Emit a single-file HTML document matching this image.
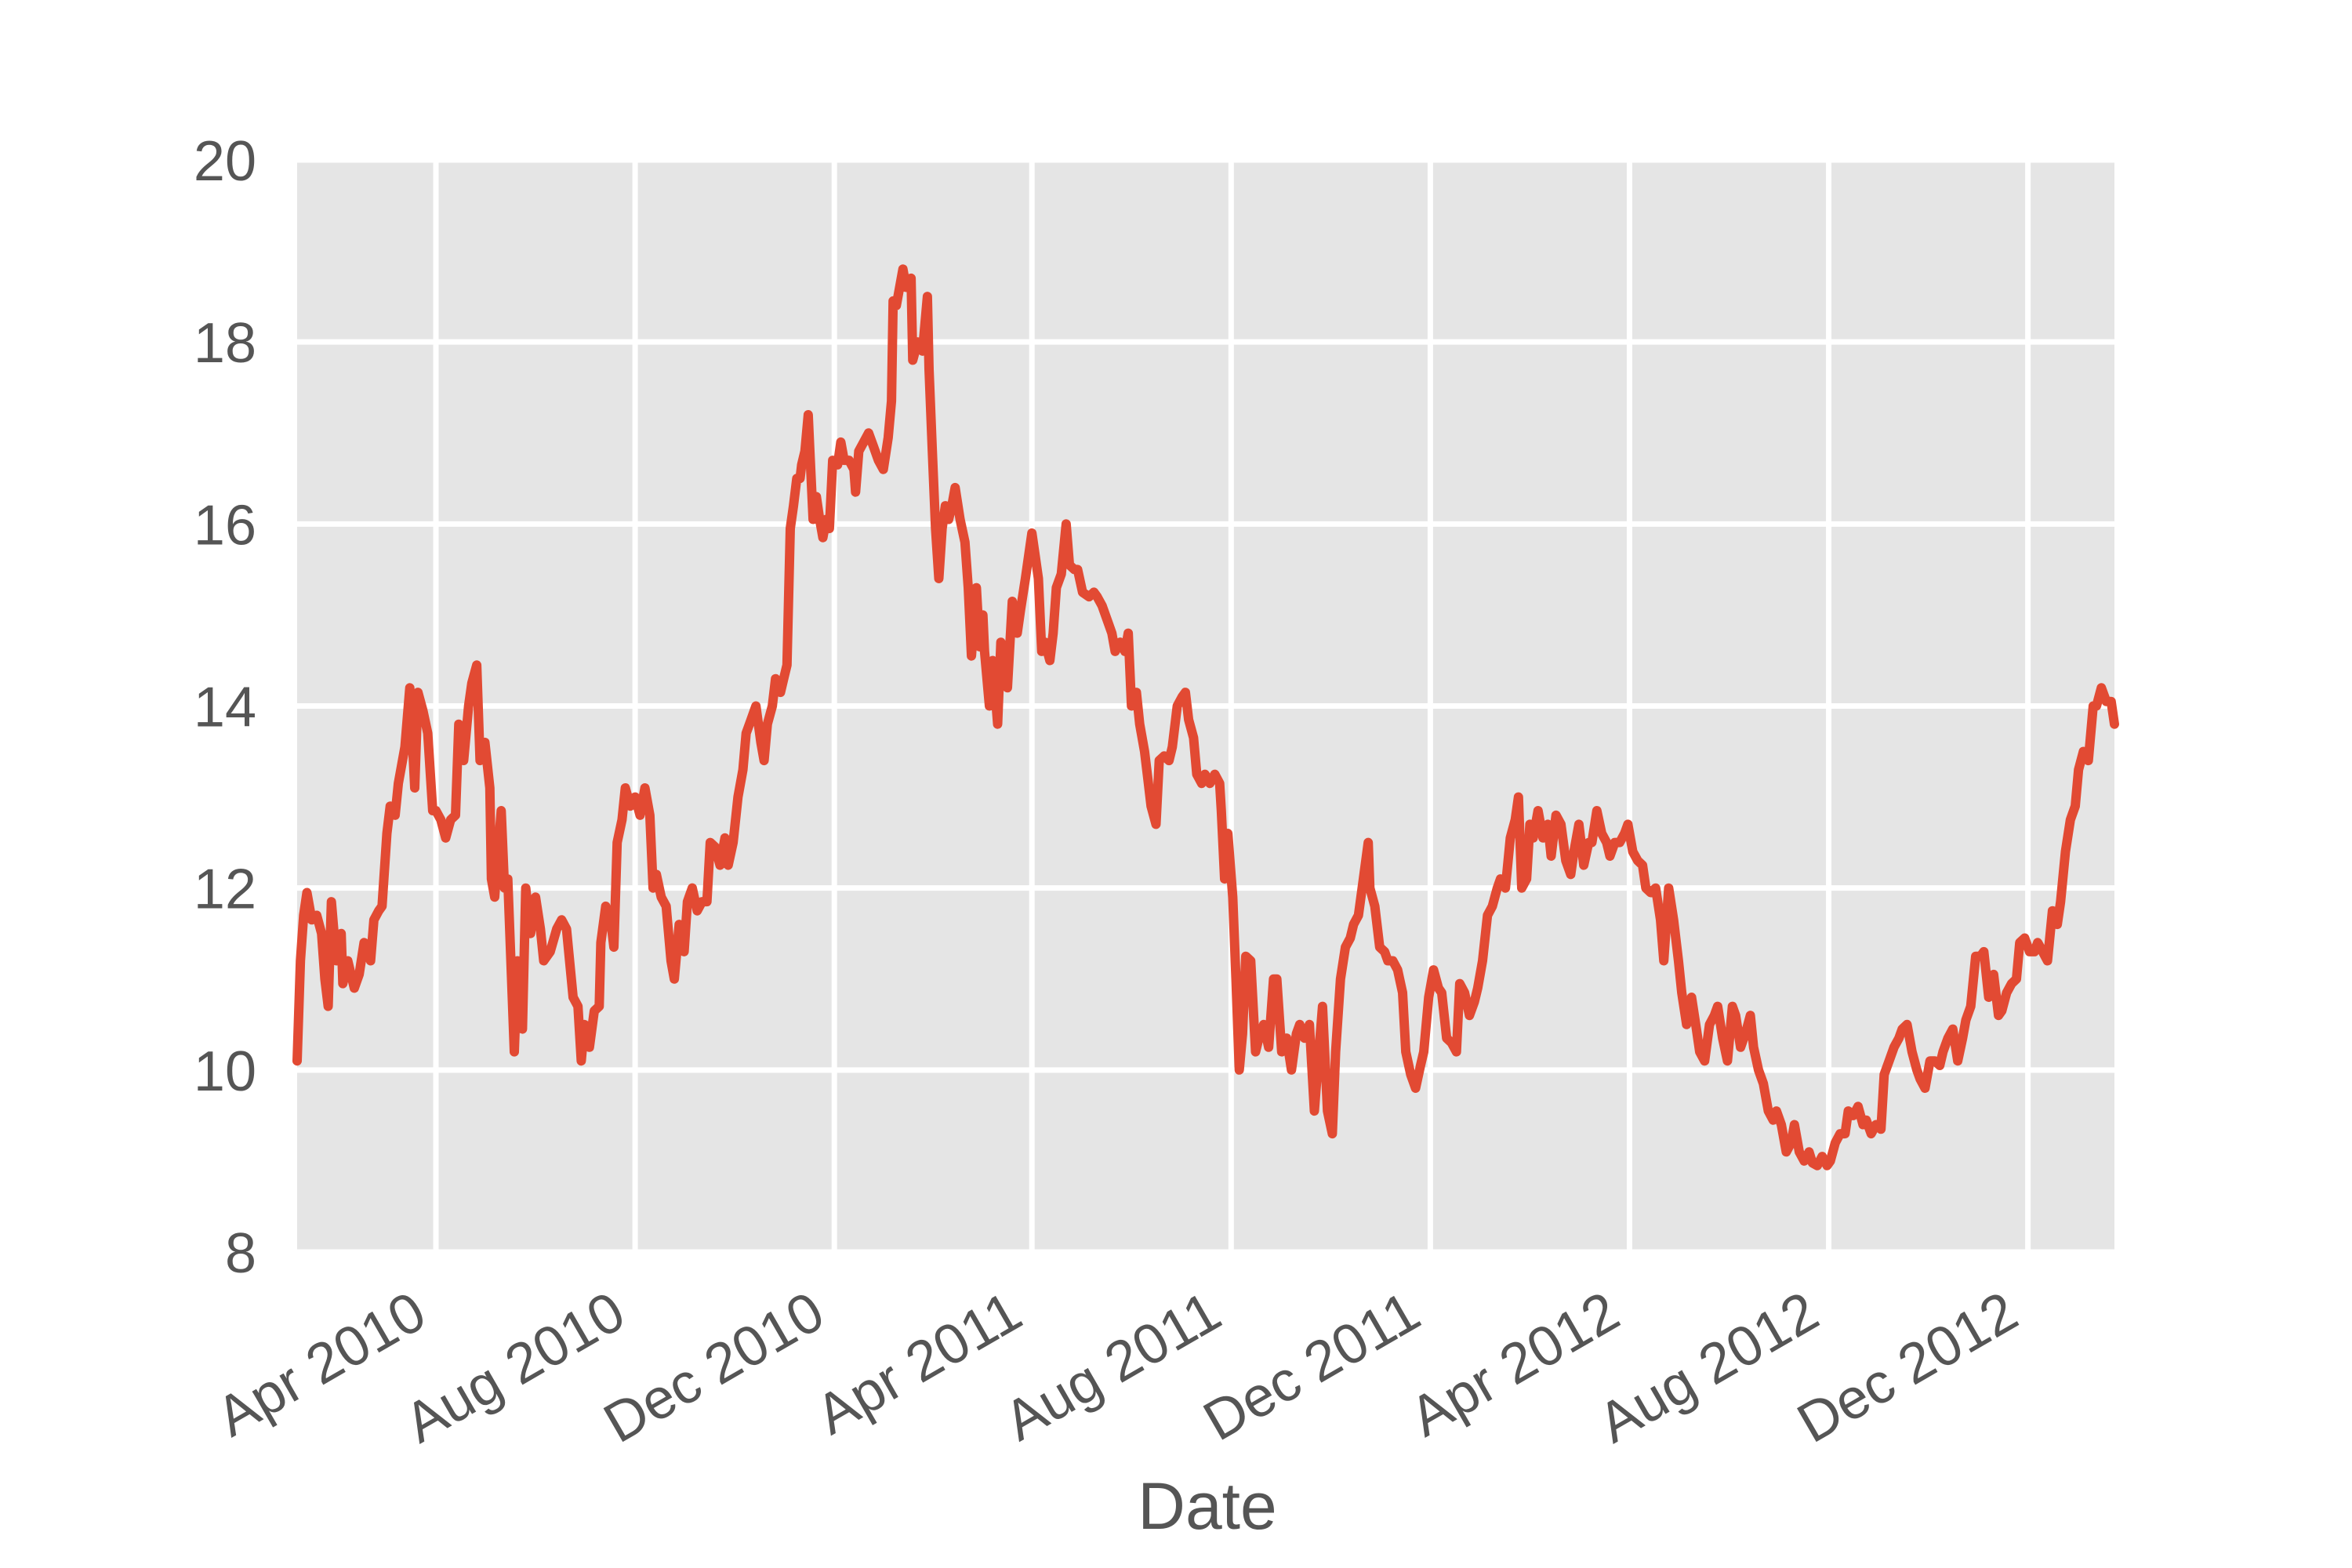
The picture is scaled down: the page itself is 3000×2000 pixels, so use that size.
<!DOCTYPE html>
<html>
<head>
<meta charset="utf-8">
<style>
  html, body { margin: 0; padding: 0; background: #ffffff; }
  svg { display: block; }
  text { font-family: "Liberation Sans", "DejaVu Sans", sans-serif; fill: #555555; }
</style>
</head>
<body>
<svg id="chart" width="3000" height="2000" viewBox="0 0 3000 2000" xmlns="http://www.w3.org/2000/svg">
  <rect x="0" y="0" width="3000" height="2000" fill="#ffffff"/>
  <rect x="379" y="204" width="2318" height="1393" fill="#e5e5e5"/>
  <g id="grid"></g>
  <g id="series"></g>
  <g id="yticks"></g>
  <g id="xticks"></g>
  <text x="1540" y="1950" font-size="84" text-anchor="middle">Date</text>
</svg>
<script>
// day numbers since 2010-01-01
const days = [5,7,9,11,14,17,20,22,24,26,29,32,33,36,40,43,46,50,52,55,57,60,62,65,67,71,74,77,79,82,85,88,90,93,96,99,102,104,107,110,112,115,117,120,123,124,126,128,130,132,134,138,140,143,145,148,151,154,156,160,164,167,170,174,177,179,181,184,187,190,191,194,197,199,201,204,206,209,212,215,218,221,223,225,228,231,234,236,239,242,244,247,250,253,256,258,261,264,267,269,272,275,278,280,283,286,289,291,293,296,298,301,303,305,307,309,311,313,314,316,318,319,321,323,325,327,329,331,333,336,338,340,343,346,347,349,352,355,358,361,364,367,369,370,372,374,376,378,381,382,385,388,391,392,394,396,398,400,402,404,406,408,411,414,416,418,421,423,425,426,429,431,434,436,438,440,443,446,448,451,455,457,459,461,463,466,468,470,473,476,478,481,483,486,490,493,495,498,501,504,506,509,512,514,516,519,521,524,526,528,531,533,536,539,541,544,547,549,551,554,556,559,561,564,567,570,571,573,575,578,580,582,584,586,589,592,594,597,600,603,605,608,611,614,617,619,622,625,628,631,633,636,639,641,644,647,650,652,655,658,661,662,665,668,671,673,676,679,682,684,687,690,693,695,698,701,704,706,709,712,715,717,720,723,726,728,731,734,737,740,742,745,748,751,753,755,758,760,762,765,768,771,773,776,779,782,785,787,790,793,796,798,801,804,807,809,812,815,818,820,823,826,829,831,834,837,840,842,845,848,851,853,856,859,862,864,867,870,873,875,878,881,884,886,889,892,895,897,900,903,906,909,911,914,917,920,922,925,928,931,933,936,939,942,944,947,950,953,955,958,961,964,966,969,972,975,977,980,983,986,988,991,994,997,999,1002,1005,1008,1011,1013,1016,1019,1022,1025,1027,1030,1033,1036,1038,1041,1044,1047,1049,1052,1055,1058,1060,1063,1066,1069,1071,1074,1077,1080,1083,1085,1088,1091,1094,1096,1099,1102,1105,1107,1110,1113,1116,1118];
const values = [10.1,11.2,11.7,11.95,11.65,11.7,11.5,11.0,10.7,11.85,11.2,11.5,10.95,11.2,10.9,11.05,11.4,11.2,11.65,11.75,11.8,12.6,12.9,12.8,13.15,13.55,14.2,13.1,14.15,13.95,13.7,12.85,12.85,12.75,12.55,12.75,12.8,13.8,13.4,14.0,14.25,14.45,13.4,13.6,13.1,12.1,11.9,12.4,12.85,12.0,12.1,10.2,11.2,10.45,12.0,11.5,11.9,11.55,11.2,11.3,11.55,11.65,11.55,10.8,10.7,10.1,10.5,10.25,10.65,10.7,11.4,11.8,11.65,11.35,12.5,12.75,13.1,12.9,13.0,12.8,13.1,12.8,12.0,12.15,11.9,11.8,11.2,11.0,11.6,11.3,11.85,12.0,11.75,11.85,11.85,12.5,12.45,12.25,12.55,12.25,12.5,13.0,13.3,13.7,13.85,14.0,13.6,13.4,13.8,14.0,14.3,14.15,14.3,14.45,15.95,16.2,16.5,16.5,16.65,16.8,17.2,16.8,16.05,16.3,16.05,15.85,16.05,15.95,16.7,16.65,16.9,16.7,16.7,16.6,16.35,16.8,16.9,17.0,16.85,16.7,16.6,16.95,17.35,18.45,18.4,18.6,18.8,18.6,18.7,17.8,18.0,17.9,18.5,17.7,16.8,15.95,15.4,15.95,16.2,16.05,16.2,16.4,16.05,15.8,15.3,14.55,15.3,14.65,15.0,14.6,14.0,14.5,13.8,14.7,14.6,14.2,15.15,14.8,15.05,15.4,15.9,15.65,15.4,14.6,14.7,14.5,14.8,15.3,15.45,16.0,15.55,15.5,15.5,15.25,15.2,15.25,15.2,15.1,14.95,14.8,14.6,14.7,14.6,14.8,14.0,14.15,13.8,13.5,13.2,12.9,12.7,13.4,13.45,13.4,13.55,14.0,14.1,14.15,13.85,13.65,13.25,13.15,13.25,13.15,13.25,13.15,12.85,12.1,12.6,11.9,11.0,10.0,10.4,11.25,11.2,10.2,10.35,10.5,10.25,11.0,11.0,10.2,10.35,10.0,10.4,10.5,10.35,10.5,9.55,10.25,10.7,9.55,9.3,10.2,11.0,11.35,11.45,11.6,11.7,12.1,12.5,12.0,11.8,11.35,11.3,11.2,11.2,11.1,10.85,10.2,9.95,9.8,10.05,10.2,10.8,11.1,10.9,10.85,10.35,10.3,10.2,10.95,10.85,10.6,10.75,10.9,11.2,11.7,11.8,12.0,12.1,12.0,12.55,12.75,13.0,12.0,12.1,12.7,12.55,12.85,12.55,12.7,12.35,12.8,12.7,12.3,12.15,12.4,12.7,12.25,12.5,12.5,12.85,12.6,12.5,12.35,12.5,12.5,12.6,12.7,12.4,12.3,12.25,12.0,11.95,12.0,11.65,11.2,12.0,11.65,11.2,10.85,10.5,10.8,10.45,10.2,10.1,10.5,10.6,10.7,10.35,10.1,10.7,10.6,10.25,10.4,10.6,10.25,10.0,9.85,9.55,9.45,9.55,9.4,9.1,9.2,9.4,9.1,9.0,9.1,8.98,8.95,9.05,8.95,9.0,9.2,9.3,9.3,9.55,9.5,9.6,9.4,9.45,9.3,9.4,9.35,9.95,10.1,10.25,10.35,10.45,10.5,10.2,10.0,9.9,9.8,10.1,10.1,10.05,10.2,10.35,10.45,10.1,10.35,10.55,10.7,11.25,11.25,11.3,10.8,11.05,10.6,10.65,10.85,10.95,11.0,11.4,11.45,11.3,11.3,11.4,11.3,11.2,11.75,11.6,11.85,12.4,12.75,12.9,13.3,13.5,13.4,14.0,14.0,14.2,14.05,14.05,13.8];
const yTicks = [8, 10, 12, 14, 16, 18, 20];
const xTickDays = [90, 212, 334, 455, 577, 699, 821, 943, 1065];
const xTickLabels = ["Apr 2010","Aug 2010","Dec 2010","Apr 2011","Aug 2011","Dec 2011","Apr 2012","Aug 2012","Dec 2012"];

const L = 379, R = 2697, T = 204, B = 1597;
const dMin = 5, dMax = 1118, vMin = 8, vMax = 20;
function xScale(d) { return L + (d - dMin) / (dMax - dMin) * (R - L); }
function yScale(v) { return B - (v - vMin) / (vMax - vMin) * (B - T); }

const NS = "http://www.w3.org/2000/svg";
const grid = document.getElementById("grid");
const yt = document.getElementById("yticks");
const xt = document.getElementById("xticks");
const series = document.getElementById("series");

yTicks.forEach(function (v) {
  const y = yScale(v);
  const ln = document.createElementNS(NS, "line");
  ln.setAttribute("x1", L); ln.setAttribute("x2", R);
  ln.setAttribute("y1", y); ln.setAttribute("y2", y);
  ln.setAttribute("stroke", "#ffffff"); ln.setAttribute("stroke-width", "7");
  
  
  grid.appendChild(ln);
  const t = document.createElementNS(NS, "text");
  t.setAttribute("x", 327); t.setAttribute("y", y + 26);
  t.setAttribute("font-size", "72"); t.setAttribute("text-anchor", "end");
  t.textContent = v;
  
  
  yt.appendChild(t);
});

xTickDays.forEach(function (d, i) {
  const x = xScale(d);
  const ln = document.createElementNS(NS, "line");
  ln.setAttribute("x1", x); ln.setAttribute("x2", x);
  ln.setAttribute("y1", T); ln.setAttribute("y2", B);
  ln.setAttribute("stroke", "#ffffff"); ln.setAttribute("stroke-width", "7");
  
  
  grid.appendChild(ln);
  const t = document.createElementNS(NS, "text");
  const ax = x - 8, ay = 1688;
  t.setAttribute("x", ax); t.setAttribute("y", ay);
  t.setAttribute("font-size", "72"); t.setAttribute("text-anchor", "end");
  t.setAttribute("transform", "rotate(-30 " + ax + " " + ay + ")");
  t.textContent = xTickLabels[i];
  
  
  xt.appendChild(t);
});

let dStr = "";
days.forEach(function (d, i) {
  dStr += (i === 0 ? "M" : "L") + xScale(d).toFixed(1) + "," + yScale(values[i]).toFixed(1);
});
const path = document.createElementNS(NS, "path");
path.setAttribute("d", dStr);
path.setAttribute("fill", "none");
path.setAttribute("stroke", "#E24A33");
path.setAttribute("stroke-width", "12");
path.setAttribute("stroke-linejoin", "round");
path.setAttribute("stroke-linecap", "round");


series.appendChild(path);
</script>
</body>
</html>
